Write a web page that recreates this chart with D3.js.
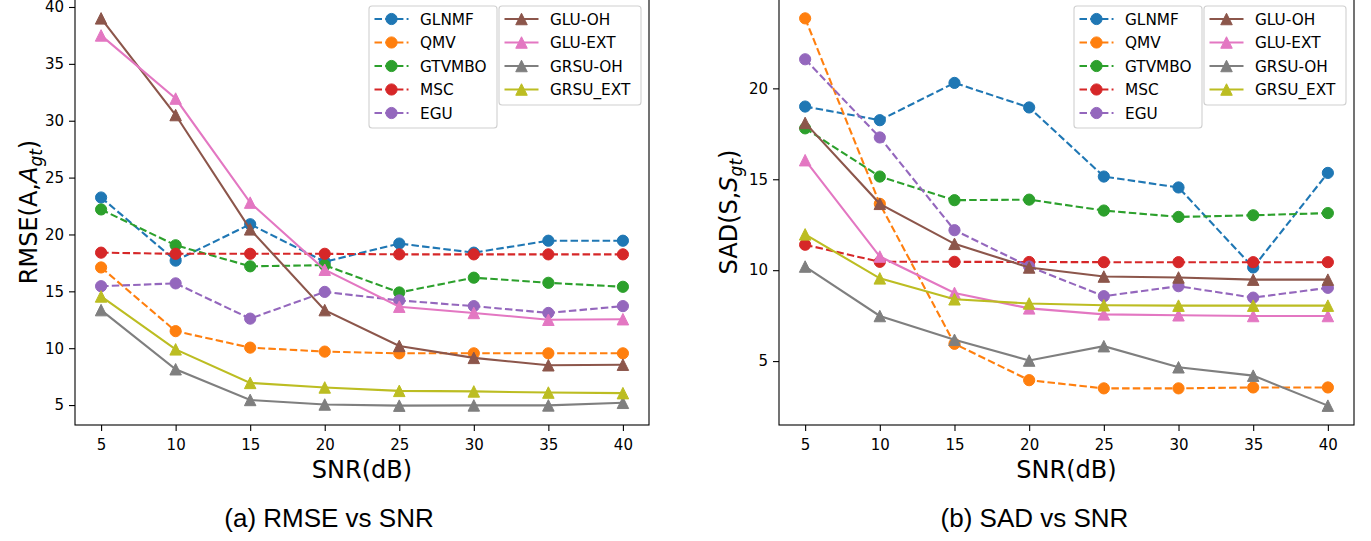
<!DOCTYPE html>
<html>
<head>
<meta charset="utf-8">
<script src="https://cdn.jsdelivr.net/npm/d3@7"></script>
<style>
  body { margin: 0; background: #fff; }
  svg { display: block; }
</style>
</head>
<body>
<svg id="chart" width="1371" height="541"></svg>
<script>
// x values shared by both panels
const snrValues = [5, 10, 15, 20, 25, 30, 35, 40];

const methodNames = ["GLNMF", "QMV", "GTVMBO", "MSC", "EGU",
  "GLU-OH", "GLU-EXT", "GRSU-OH", "GRSU_EXT"];

// rows follow methodNames
const rmseSeries = [
  [23.25, 17.7, 20.9, 17.6, 19.2, 18.4, 19.45, 19.45],
  [17.1, 11.5, 10.05, 9.7, 9.55, 9.55, 9.55, 9.55],
  [22.2, 19.05, 17.2, 17.3, 14.9, 16.2, 15.75, 15.4],
  [18.4, 18.3, 18.3, 18.3, 18.25, 18.25, 18.25, 18.25],
  [15.45, 15.7, 12.6, 14.95, 14.2, 13.7, 13.1, 13.7],
  [39.0, 30.5, 20.45, 13.35, 10.2, 9.15, 8.5, 8.55],
  [37.5, 31.95, 22.8, 16.9, 13.65, 13.1, 12.5, 12.55],
  [13.35, 8.15, 5.45, 5.05, 4.95, 4.97, 4.97, 5.2],
  [14.55, 9.9, 6.95, 6.55, 6.25, 6.2, 6.1, 6.05]
];

const sadSeries = [
  [19.0, 18.25, 20.3, 18.95, 15.15, 14.55, 10.15, 15.35],
  [23.85, 13.65, 5.95, 3.95, 3.5, 3.5, 3.55, 3.55],
  [17.8, 15.15, 13.85, 13.88, 13.28, 12.93, 13.02, 13.14],
  [11.4, 10.46, 10.46, 10.45, 10.44, 10.44, 10.44, 10.44],
  [21.6, 17.3, 12.2, 10.2, 8.57, 9.12, 8.49, 9.03],
  [18.1, 13.65, 11.45, 10.15, 9.65, 9.6, 9.48, 9.48],
  [16.05, 10.75, 8.75, 7.9, 7.57, 7.52, 7.48, 7.48],
  [10.2, 7.48, 6.17, 5.03, 5.82, 4.66, 4.2, 2.55],
  [11.97, 9.55, 8.4, 8.17, 8.07, 8.05, 8.05, 8.05]
];

const rmseTicks = [5, 10, 15, 20, 25, 30, 35, 40];
const sadTicks = [5, 10, 15, 20];

// styling (tab10 colours, circles dashed, triangles solid)
const colors = ["#1f77b4", "#ff7f0e", "#2ca02c", "#d62728", "#9467bd",
  "#8c564b", "#e377c2", "#7f7f7f", "#bcbd22"];
const isDashed = (i) => i < 5;

const svg = d3.select("#chart");
const font = "'DejaVu Sans', sans-serif";
const plotTop = -1, plotBottom = 425;

function padded(series) {
  let ext = d3.extent(series.flat());
  let p = (ext[1] - ext[0]) * 0.05;
  return [ext[0] - p, ext[1] + p];
}

function drawMarker(g, i, x, y) {
  if (isDashed(i)) {
    g.append("circle").attr("cx", x).attr("cy", y).attr("r", 5.6)
      .attr("fill", colors[i]).attr("stroke", colors[i]).attr("stroke-width", 1);
  } else {
    let h = 11.5;
    g.append("path")
      .attr("d", `M${x},${y - h / 2}L${x - h / 2},${y + h / 2}L${x + h / 2},${y + h / 2}Z`)
      .attr("fill", colors[i]).attr("stroke", colors[i]).attr("stroke-width", 1);
  }
}

function drawPanel(opts) {
  let x = d3.scaleLinear().domain([3.25, 41.75]).range([opts.left, opts.right]);
  let y = d3.scaleLinear().domain(padded(opts.series)).range([plotBottom, plotTop]);
  let g = svg.append("g");

  // axes
  let xAxis = g.append("g").attr("transform", `translate(0,${plotBottom})`)
    .call(d3.axisBottom(x).tickValues(snrValues).tickSize(6).tickPadding(8).tickSizeOuter(0));
  let yAxis = g.append("g").attr("transform", `translate(${opts.left},0)`)
    .call(d3.axisLeft(y).tickValues(opts.yTicks).tickSize(6).tickPadding(5).tickSizeOuter(0));
  [xAxis, yAxis].forEach((a) => {
    a.select(".domain").remove();
    a.selectAll("line").attr("stroke", "#000").attr("stroke-width", 1.1);
    a.selectAll("text").attr("font-family", font).attr("font-size", 15).attr("fill", "#000");
  });

  // lines + markers
  let line = d3.line().x((d, k) => x(snrValues[k])).y((d) => y(d));
  opts.series.forEach((vals, i) => {
    g.append("path")
      .attr("d", line(vals))
      .attr("fill", "none")
      .attr("stroke", colors[i])
      .attr("stroke-width", 2.1)
      .attr("stroke-dasharray", isDashed(i) ? "7.5,3.2" : null);
    vals.forEach((v, k) => drawMarker(g, i, x(snrValues[k]), y(v)));
  });

  // frame
  g.append("rect")
    .attr("x", opts.left).attr("y", plotTop)
    .attr("width", opts.right - opts.left).attr("height", plotBottom - plotTop)
    .attr("fill", "none").attr("stroke", "#000").attr("stroke-width", 1.1);

  // legend: two boxes
  let boxes = [
    { x: opts.right - 280, w: 128, h: 122, items: [0, 1, 2, 3, 4] },
    { x: opts.right - 150, w: 142, h: 99, items: [5, 6, 7, 8] }
  ];
  boxes.forEach((b) => {
    let lg = g.append("g");
    lg.append("rect").attr("x", b.x).attr("y", 6).attr("width", b.w).attr("height", b.h)
      .attr("rx", 3).attr("fill", "#fff").attr("fill-opacity", 0.8)
      .attr("stroke", "#d0d0d0").attr("stroke-width", 1.1);
    b.items.forEach((i, r) => {
      let ry = 19 + r * 23.5;
      lg.append("line")
        .attr("x1", b.x + 5.5).attr("x2", b.x + 39.5).attr("y1", ry).attr("y2", ry)
        .attr("stroke", colors[i]).attr("stroke-width", 2.1)
        .attr("stroke-dasharray", isDashed(i) ? "7.5,3.2" : null);
      drawMarker(lg, i, b.x + 22.5, ry);
      lg.append("text").attr("x", b.x + 51).attr("y", ry).attr("dy", "0.36em")
        .attr("font-family", font).attr("font-size", 15.3).attr("fill", "#000")
        .text(methodNames[i]);
    });
  });

  // x label
  g.append("text").attr("x", (opts.left + opts.right) / 2).attr("y", 478)
    .attr("text-anchor", "middle").attr("font-family", font).attr("font-size", 24)
    .text("SNR(dB)");

  // y label with math part
  let yl = g.append("text")
    .attr("transform", `translate(${opts.labelX},${(plotTop + plotBottom) / 2}) rotate(-90)`)
    .attr("text-anchor", "middle").attr("font-family", font).attr("font-size", 24);
  yl.append("tspan").text(opts.yName + "(" + opts.sym + ",");
  yl.append("tspan").attr("font-style", "italic").text(opts.sym);
  yl.append("tspan").attr("font-style", "italic").attr("font-size", 17).attr("dy", 5).text("gt");
  yl.append("tspan").attr("dy", -5).text(")");

  // caption
  svg.append("text").attr("x", opts.captionX).attr("y", 527)
    .attr("text-anchor", "middle").attr("font-family", "'Liberation Sans', Arial, sans-serif")
    .attr("font-size", 26).text(opts.caption);
}

drawPanel({ left: 75, right: 649, series: rmseSeries, yTicks: rmseTicks,
  yName: "RMSE", sym: "A", labelX: 37, caption: "(a) RMSE vs SNR", captionX: 329 });
drawPanel({ left: 779, right: 1354, series: sadSeries, yTicks: sadTicks,
  yName: "SAD", sym: "S", labelX: 737, caption: "(b) SAD vs SNR", captionX: 1034.5 });
</script>
</body>
</html>
